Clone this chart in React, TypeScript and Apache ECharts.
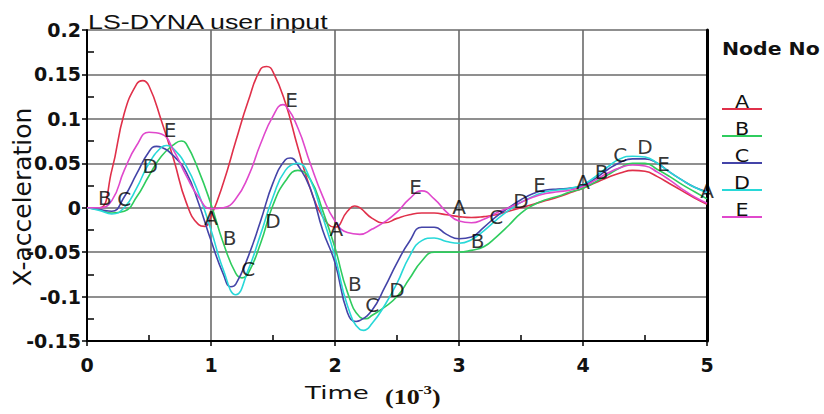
import React, { useEffect, useRef } from "react";
import * as echarts from "echarts";

// [time (10^-3), X-acceleration], per node
const nodeA = [
  [0, 0], [0.1, 0], [0.2, 0.042], [0.3, 0.106], [0.4, 0.139], [0.45, 0.143], [0.5, 0.137],
  [0.6, 0.098], [0.7, 0.054], [0.8, 0.006], [0.9, -0.019], [0.95, -0.021], [1.0, -0.01],
  [1.1, 0.028], [1.2, 0.075], [1.3, 0.12], [1.4, 0.156], [1.45, 0.159], [1.5, 0.153],
  [1.6, 0.118], [1.7, 0.068], [1.8, 0.022], [1.9, -0.01], [2.0, -0.022], [2.1, -0.004],
  [2.16, 0.002], [2.2, 0.0], [2.3, -0.012], [2.4, -0.017], [2.5, -0.012], [2.6, -0.008],
  [2.7, -0.006], [2.8, -0.006], [2.9, -0.008], [3.0, -0.01], [3.1, -0.011], [3.2, -0.01],
  [3.3, -0.008], [3.4, -0.004], [3.5, 0], [3.6, 0.004], [3.7, 0.008], [3.8, 0.012],
  [3.9, 0.017], [4.0, 0.022], [4.1, 0.028], [4.2, 0.034], [4.3, 0.039], [4.4, 0.042],
  [4.5, 0.041], [4.6, 0.035], [4.7, 0.027], [4.8, 0.019], [4.9, 0.011], [5.0, 0.004],
];
const nodeB = [
  [0, 0], [0.1, -0.002], [0.2, -0.006], [0.3, -0.004], [0.4, 0.012], [0.5, 0.036],
  [0.6, 0.058], [0.7, 0.071], [0.76, 0.075], [0.8, 0.072], [0.9, 0.042], [1.0, 0.004],
  [1.1, -0.04], [1.2, -0.074], [1.25, -0.079], [1.3, -0.074], [1.4, -0.04], [1.5, 0.003],
  [1.6, 0.03], [1.7, 0.042], [1.8, 0.032], [1.9, -0.003], [2.0, -0.045], [2.1, -0.095],
  [2.2, -0.123], [2.25, -0.125], [2.3, -0.121], [2.4, -0.112], [2.5, -0.1], [2.6, -0.08],
  [2.7, -0.06], [2.8, -0.05], [2.9, -0.05], [3.0, -0.05], [3.1, -0.048], [3.2, -0.044],
  [3.3, -0.033], [3.4, -0.02], [3.5, -0.006], [3.6, 0.003], [3.7, 0.009], [3.8, 0.013],
  [3.9, 0.018], [4.0, 0.022], [4.1, 0.029], [4.2, 0.037], [4.3, 0.045], [4.4, 0.05],
  [4.5, 0.05], [4.6, 0.043], [4.7, 0.035], [4.8, 0.026], [4.9, 0.018], [5.0, 0.01],
];
const nodeC = [
  [0, 0], [0.1, -0.002], [0.2, -0.004], [0.3, 0.012], [0.4, 0.038], [0.5, 0.063],
  [0.56, 0.069], [0.6, 0.068], [0.7, 0.058], [0.8, 0.04], [0.9, 0.005], [1.0, -0.037],
  [1.1, -0.075], [1.16, -0.089], [1.2, -0.086], [1.3, -0.055], [1.4, -0.015], [1.5, 0.028],
  [1.6, 0.054], [1.64, 0.056], [1.7, 0.048], [1.8, 0.022], [1.9, -0.025], [2.0, -0.062],
  [2.1, -0.118], [2.17, -0.128], [2.2, -0.127], [2.3, -0.115], [2.4, -0.09], [2.5, -0.062],
  [2.6, -0.038], [2.7, -0.022], [2.8, -0.022], [2.9, -0.03], [3.0, -0.035], [3.1, -0.033],
  [3.2, -0.022], [3.3, -0.01], [3.4, 0], [3.5, 0.009], [3.6, 0.016], [3.7, 0.02],
  [3.8, 0.021], [3.9, 0.022], [4.0, 0.025], [4.1, 0.033], [4.2, 0.043], [4.3, 0.051],
  [4.4, 0.055], [4.5, 0.055], [4.6, 0.05], [4.7, 0.04], [4.8, 0.031], [4.9, 0.023], [5.0, 0.018],
];
const nodeD = [
  [0, 0], [0.1, -0.003], [0.2, -0.007], [0.3, 0], [0.4, 0.022], [0.5, 0.05], [0.6, 0.068],
  [0.64, 0.07], [0.7, 0.066], [0.8, 0.047], [0.9, 0.016], [1.0, -0.025], [1.1, -0.07],
  [1.2, -0.098], [1.3, -0.07], [1.4, -0.03], [1.5, 0.012], [1.6, 0.042], [1.7, 0.05],
  [1.8, 0.032], [1.9, -0.01], [2.0, -0.055], [2.1, -0.11], [2.2, -0.137], [2.23, -0.138],
  [2.3, -0.13], [2.4, -0.11], [2.5, -0.085], [2.6, -0.055], [2.7, -0.037], [2.8, -0.034],
  [2.9, -0.038], [3.0, -0.04], [3.1, -0.036], [3.2, -0.026], [3.3, -0.014], [3.4, -0.003],
  [3.5, 0.006], [3.6, 0.013], [3.7, 0.018], [3.8, 0.02], [3.9, 0.022], [4.0, 0.026],
  [4.1, 0.035], [4.2, 0.046], [4.3, 0.055], [4.4, 0.058], [4.5, 0.057], [4.6, 0.05],
  [4.7, 0.04], [4.8, 0.031], [4.9, 0.023], [5.0, 0.017],
];
const nodeE = [
  [0, 0], [0.1, 0], [0.2, 0.008], [0.3, 0.042], [0.4, 0.07], [0.5, 0.085], [0.6, 0.083],
  [0.7, 0.064], [0.8, 0.036], [0.9, 0.012], [1.0, -0.001], [1.1, 0], [1.2, 0.01],
  [1.3, 0.035], [1.4, 0.072], [1.5, 0.103], [1.58, 0.116], [1.6, 0.115], [1.7, 0.09],
  [1.8, 0.05], [1.9, 0.013], [2.0, -0.015], [2.1, -0.028], [2.2, -0.03], [2.3, -0.024],
  [2.4, -0.016], [2.5, -0.005], [2.6, 0.01], [2.7, 0.019], [2.8, 0.01], [2.9, -0.005],
  [3.0, -0.015], [3.1, -0.017], [3.2, -0.013], [3.3, -0.006], [3.4, 0], [3.5, 0.006],
  [3.6, 0.012], [3.7, 0.016], [3.8, 0.018], [3.9, 0.02], [4.0, 0.024], [4.1, 0.031],
  [4.2, 0.039], [4.3, 0.045], [4.4, 0.048], [4.5, 0.047], [4.6, 0.04], [4.7, 0.031],
  [4.8, 0.021], [4.9, 0.012], [5.0, 0.005],
];

const nodeNames = ["A", "B", "C", "D", "E"];
const nodeColors = ["#e0304a", "#2fcc5e", "#4444a8", "#28d8d8", "#e048cc"];

// letter markers placed along the curves [time, value]
const labelA = [[1.0, -0.012], [2.01, -0.024], [3.0, 0.001], [4.0, 0.029], [5.0, 0.019]];
const labelB = [[0.145, 0.011], [1.15, -0.034], [2.16, -0.086], [3.15, -0.037], [4.15, 0.04]];
const labelC = [[0.3, 0.01], [1.3, -0.069], [2.3, -0.11], [3.3, -0.011], [4.3, 0.059]];
const labelD = [[0.51, 0.047], [1.5, -0.015], [2.5, -0.093], [3.5, 0.008], [4.5, 0.068]];
const labelE = [[0.67, 0.088], [1.65, 0.121], [2.65, 0.023], [3.65, 0.026], [4.65, 0.049]];

const titleText = "LS-DYNA user input";
const yAxisTitle = "X-acceleration";
const xAxisTitle = "Time";
const legendTitle = "Node No";

export default function App() {
  const ref = useRef<HTMLDivElement>(null);
  useEffect(() => {
    if (!ref.current) return;
    const chart = echarts.init(ref.current, undefined, { renderer: "svg" });
    const values = [nodeA, nodeB, nodeC, nodeD, nodeE];
    const labels = [labelA, labelB, labelC, labelD, labelE];

    const lineSeries = nodeNames.map((n, i) => ({
      name: n,
      type: "line",
      data: values[i],
      smooth: 0.5,
      showSymbol: false,
      symbol: "none",
      lineStyle: { color: nodeColors[i], width: 1.6 },
      itemStyle: { color: nodeColors[i] },
      z: 3,
    }));
    const labelSeries = nodeNames.map((n, i) => ({
      name: "label" + n,
      type: "scatter",
      data: labels[i],
      symbolSize: 1,
      itemStyle: { color: "transparent" },
      clip: false,
      label: {
        show: true,
        position: "inside",
        formatter: n,
        fontFamily: "DejaVu Sans",
        fontSize: 20,
        color: "#000",
      },
      z: 5,
    }));

    const legendEls: any[] = [];
    nodeNames.forEach((n, i) => {
      const ly = 109 + i * 27;
      legendEls.push({
        type: "text",
        x: 742,
        y: ly - 7,
        scaleX: 1.15,
        style: {
          text: n,
          fontFamily: "DejaVu Sans",
          fontSize: 18,
          fill: "#111",
          align: "center",
          verticalAlign: "middle",
        },
      });
      legendEls.push({
        type: "line",
        shape: { x1: 722, y1: ly, x2: 762, y2: ly },
        style: { stroke: nodeColors[i], lineWidth: 2 },
      });
    });

    const axisCommonX = { type: "value", min: 0, max: 5, interval: 1 };
    const axisCommonY = { type: "value", min: -0.15, max: 0.2, interval: 0.05 };

    chart.setOption({
      animation: false,
      backgroundColor: "#ffffff",
      grid: { left: 87, right: 117, top: 30, bottom: 73 },
      xAxis: [
        {
          ...axisCommonX,
          position: "bottom",
          axisLine: { show: true, onZero: false, lineStyle: { color: "#000", width: 2 } },
          axisTick: { show: true, inside: false, length: 5, lineStyle: { color: "#000", width: 1.5 } },
          axisLabel: { fontFamily: "DejaVu Sans", fontWeight: "bold", fontSize: 19, color: "#111", margin: 14 },
          splitLine: { show: true, lineStyle: { color: "#6a6a6a", width: 1.6 } },
        },
        {
          ...axisCommonX,
          position: "bottom",
          axisLine: { show: false, onZero: false },
          axisTick: { show: false, inside: true },
          axisLabel: { show: false },
          splitLine: { show: false },
          minorTick: { show: true, splitNumber: 2, length: 6, lineStyle: { color: "#000", width: 1.5 } },
        },
      ],
      yAxis: [
        {
          ...axisCommonY,
          position: "left",
          axisLine: { show: true, onZero: false, lineStyle: { color: "#000", width: 2 } },
          axisTick: { show: true, inside: false, length: 5, lineStyle: { color: "#000", width: 1.5 } },
          axisLabel: { fontFamily: "DejaVu Sans", fontWeight: "bold", fontSize: 19, color: "#111", margin: 6 },
          splitLine: { show: true, lineStyle: { color: "#6a6a6a", width: 1.6 } },
        },
        {
          ...axisCommonY,
          position: "left",
          axisLine: { show: false, onZero: false },
          axisTick: { show: false, inside: true },
          axisLabel: { show: false },
          splitLine: { show: false },
          minorTick: { show: true, splitNumber: 2, length: 7, lineStyle: { color: "#000", width: 1.5 } },
        },
        {
          ...axisCommonY,
          position: "right",
          axisLine: { show: true, onZero: false, lineStyle: { color: "#000", width: 3 } },
          axisTick: { show: false },
          axisLabel: { show: false },
          splitLine: { show: false },
        },
      ],
      series: [...lineSeries, ...labelSeries],
      graphic: [
        {
          type: "text",
          x: 88,
          y: 22,
          scaleX: 1.34,
          style: {
            text: titleText,
            fontFamily: "Liberation Sans",
            fontSize: 20,
            fill: "#111",
            align: "left",
            verticalAlign: "middle",
          },
        },
        {
          type: "text",
          x: 22,
          y: 197,
          rotation: Math.PI / 2,
          style: {
            text: yAxisTitle,
            fontFamily: "DejaVu Sans",
            fontSize: 25,
            fill: "#111",
            align: "center",
            verticalAlign: "middle",
          },
        },
        {
          type: "text",
          x: 305,
          y: 393,
          scaleX: 1.45,
          style: {
            text: xAxisTitle,
            fontFamily: "DejaVu Sans",
            fontSize: 18,
            fill: "#111",
            align: "left",
            verticalAlign: "middle",
          },
        },
        {
          type: "text",
          x: 385,
          y: 397,
          scaleX: 1.3,
          style: {
            text: "(10",
            fontFamily: "Liberation Serif",
            fontWeight: "bold",
            fontSize: 20,
            fill: "#1e1206",
            align: "left",
            verticalAlign: "middle",
          },
        },
        {
          type: "text",
          x: 418,
          y: 390,
          scaleX: 1.3,
          style: {
            text: "-3",
            fontFamily: "Liberation Serif",
            fontWeight: "bold",
            fontSize: 13,
            fill: "#1e1206",
            align: "left",
            verticalAlign: "middle",
          },
        },
        {
          type: "text",
          x: 432,
          y: 397,
          scaleX: 1.3,
          style: {
            text: ")",
            fontFamily: "Liberation Serif",
            fontWeight: "bold",
            fontSize: 20,
            fill: "#1e1206",
            align: "left",
            verticalAlign: "middle",
          },
        },
        {
          type: "text",
          x: 722,
          y: 49,
          scaleX: 1.2,
          style: {
            text: legendTitle,
            fontFamily: "DejaVu Sans",
            fontWeight: "bold",
            fontSize: 17,
            fill: "#111",
            align: "left",
            verticalAlign: "middle",
          },
        },
        ...legendEls,
      ],
    });
    return () => chart.dispose();
  }, []);
  return (
    <div
      ref={ref}
      style={{ position: "absolute", left: 0, top: 0, width: 824, height: 414 }}
    />
  );
}
